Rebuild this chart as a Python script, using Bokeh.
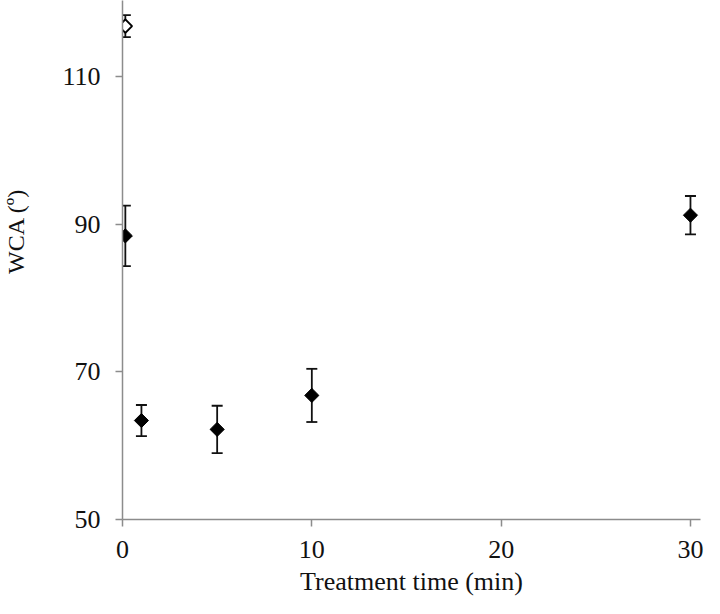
import numpy as np
from bokeh.plotting import figure
from bokeh.models import ColumnDataSource, Whisker, Range1d, FixedTicker, Title
from bokeh.embed import file_html
from bokeh.resources import INLINE

# Data
untreated_time = [0.15]
untreated_wca = [116.8]
untreated_err = [1.5]

time_min = [0.15, 1, 5, 10, 30]
wca = [88.4, 63.4, 62.2, 66.8, 91.2]
wca_err = [4.1, 2.1, 3.2, 3.6, 2.6]

x_ticks = [0, 10, 20, 30]
y_ticks = [50, 70, 90, 110]

FONT = "Liberation Serif"

p = figure(width=704, height=598, output_backend="svg", toolbar_location=None,
           x_range=Range1d(0, 30.53), y_range=Range1d(50, 120.27),
           min_border_left=122, min_border_right=4, min_border_top=0, min_border_bottom=78)
p.outline_line_color = None
p.xgrid.visible = False
p.ygrid.visible = False

def whiskers(xs, ys, es):
    src = ColumnDataSource(dict(x=xs, lo=[y - e for y, e in zip(ys, es)], hi=[y + e for y, e in zip(ys, es)]))
    w = Whisker(source=src, base="x", lower="lo", upper="hi", line_color="#111111", line_width=1.8)
    for h in (w.upper_head, w.lower_head):
        h.size = 11
        h.line_width = 1.8
        h.line_color = "#111111"
    p.add_layout(w)

whiskers(time_min, wca, wca_err)
whiskers(untreated_time, untreated_wca, untreated_err)

p.scatter(time_min, wca, marker="square", angle=np.pi / 4, size=10,
          fill_color="black", line_color="black", line_width=1)
p.scatter(untreated_time, untreated_wca, marker="square", angle=np.pi / 4, size=9.5,
          fill_color="white", line_color="black", line_width=2)

for ax in (p.xaxis, p.yaxis):
    ax.axis_line_color = "#8c8c8c"
    ax.axis_line_width = 1.5
    ax.major_tick_line_color = "#8c8c8c"
    ax.major_tick_line_width = 1.5
    ax.major_tick_in = 0
    ax.major_tick_out = 7
    ax.minor_tick_line_color = None
    ax.major_label_text_font = FONT
    ax.major_label_text_font_size = "26px"
    ax.major_label_text_color = "#111111"
    ax.axis_label_text_font = FONT
    ax.axis_label_text_font_size = "26px"
    ax.axis_label_text_font_style = "normal"
    ax.axis_label_text_color = "#111111"

p.xaxis.ticker = FixedTicker(ticks=x_ticks)
p.yaxis.ticker = FixedTicker(ticks=y_ticks)
p.xaxis.axis_label = "Treatment time (min)"
p.xaxis.major_label_standoff = 14
p.yaxis.major_label_standoff = 15
p.xaxis.axis_label_standoff = 6

# blank y-axis label used only as spacing, so the title sits at the outer edge
p.yaxis.axis_label = " "
p.yaxis.axis_label_text_font_size = "1px"
p.yaxis.axis_label_standoff = 27

ytitle = Title(text="WCA (º)", align="right", offset=188, standoff=0,
               text_font=FONT, text_font_size="24px", text_font_style="normal",
               text_color="#111111")
p.add_layout(ytitle, "left")

open("out.html", "w").write(file_html(p, INLINE))
